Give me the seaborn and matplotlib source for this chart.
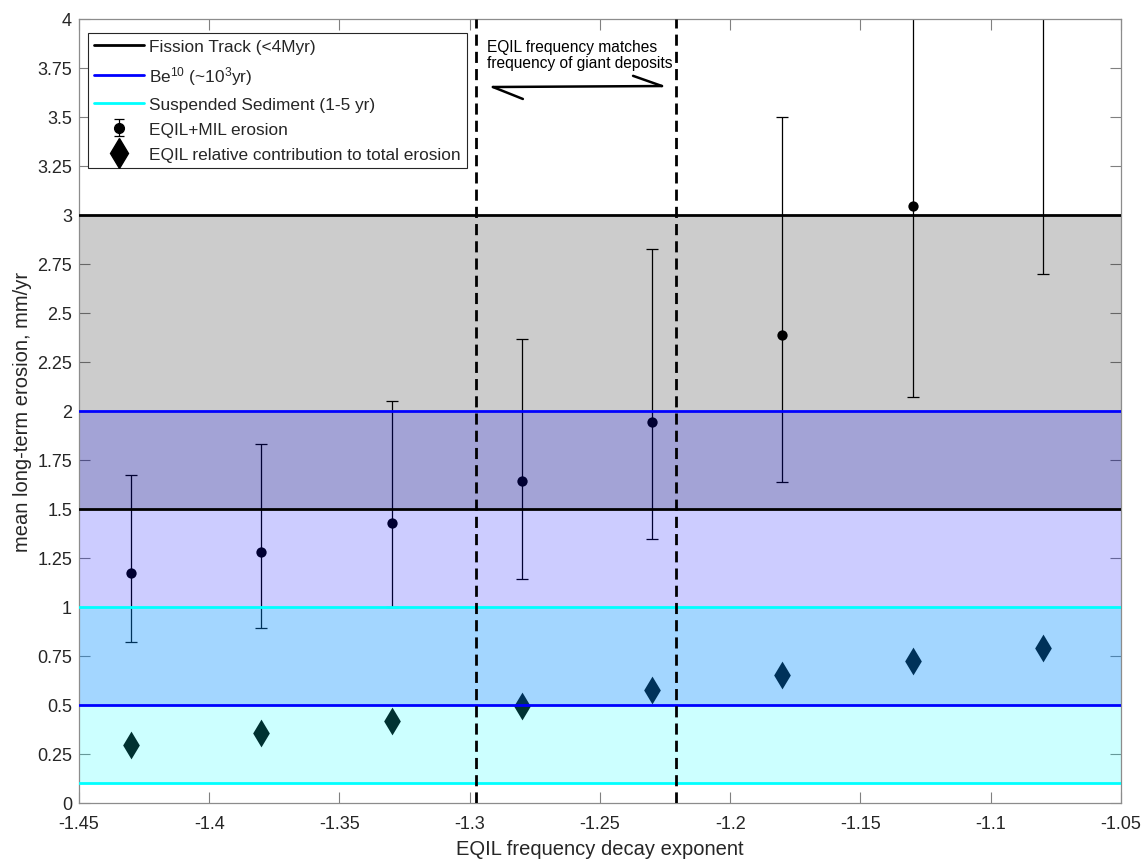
import numpy as np
import pandas as pd
import matplotlib
matplotlib.use("Agg")
import matplotlib.pyplot as plt
from matplotlib.ticker import FuncFormatter, MultipleLocator
from matplotlib.lines import Line2D
import seaborn as sns

# ---------------- data ----------------
exponents = [-1.43, -1.38, -1.33, -1.28, -1.23, -1.18, -1.13, -1.08]
total_erosion = [1.175, 1.28, 1.43, 1.645, 1.945, 2.39, 3.045, 4.15]
err_low = [0.82, 0.895, 1.0, 1.145, 1.345, 1.64, 2.07, 2.70]
err_high = [1.675, 1.83, 2.05, 2.365, 2.825, 3.50, 4.60, 6.00]
eqil_contrib = [0.295, 0.355, 0.42, 0.495, 0.575, 0.655, 0.725, 0.79]

fission_band = (1.5, 3.0)
be10_band = (0.5, 2.0)
sediment_band = (0.1, 1.0)
giant_window = (-1.2975, -1.221)

labels = ["Fission Track (<4Myr)", r"Be$^{10}$ (~10$^{3}$yr)",
          "Suspended Sediment (1-5 yr)", "EQIL+MIL erosion",
          "EQIL relative contribution to total erosion"]

df = pd.DataFrame({"x": exponents, "y": total_erosion,
                   "lo": err_low, "hi": err_high, "c": eqil_contrib})

# ---------------- style ----------------
sns.set_theme(style="white")
plt.rcParams["font.family"] = ["Liberation Sans", "DejaVu Sans"]
plt.rcParams["mathtext.fontset"] = "custom"
plt.rcParams["mathtext.rm"] = "Liberation Sans"
plt.rcParams["mathtext.it"] = "Liberation Sans"
plt.rcParams["mathtext.default"] = "regular"

fig = plt.figure(figsize=(11.45, 8.62), dpi=100)
ax = fig.add_axes([0.069, 0.0673, 0.910, 0.9095])

# data (drawn beneath semi-transparent bands, as in the original)
ax.errorbar(df["x"], df["y"], yerr=[df["y"] - df["lo"], df["hi"] - df["y"]],
            fmt="none", ecolor="black", elinewidth=0.9, capsize=4,
            capthick=0.9, zorder=1)
sns.scatterplot(data=df, x="x", y="y", marker="o", s=55, color="black",
                edgecolor="black", linewidth=0, zorder=1, ax=ax, legend=False)
sns.scatterplot(data=df, x="x", y="c", marker="d", s=200, color="black",
                edgecolor="black", linewidth=0, zorder=1, ax=ax, legend=False)

# bands
band_specs = [(fission_band, "black"), (be10_band, "blue"), (sediment_band, "cyan")]
for (lo, hi), col in band_specs:
    ax.axhspan(lo, hi, facecolor=col, alpha=0.2, edgecolor="none", zorder=2)
for (lo, hi), col in band_specs:
    ax.axhline(lo, color=col, lw=2, zorder=3)
    ax.axhline(hi, color=col, lw=2, zorder=3)

# dashed window
for xv in giant_window:
    ax.axvline(xv, color="black", lw=2, ls=(0, (4, 2.2)), zorder=4)

# annotation text + half-headed double arrow
ax.text(-1.2935, 3.897, "EQIL frequency matches\nfrequency of giant deposits",
        fontsize=11.2, va="top", ha="left", color="black", zorder=5,
        linespacing=1.05)
ax.plot([-1.2911, -1.2262], [3.653, 3.658], color="black", lw=1.8, zorder=5)
ax.plot([-1.2911, -1.2796], [3.653, 3.592], color="black", lw=1.8, zorder=5)
ax.plot([-1.2373, -1.2262], [3.710, 3.658], color="black", lw=1.8, zorder=5)

# axes
ax.set_xlim(-1.45, -1.05)
ax.set_ylim(0, 4)
ax.xaxis.set_major_locator(MultipleLocator(0.05))
ax.yaxis.set_major_locator(MultipleLocator(0.25))
fmt = FuncFormatter(lambda v, p: "%g" % round(v, 4))
ax.xaxis.set_major_formatter(fmt)
ax.yaxis.set_major_formatter(fmt)
ax.tick_params(direction="in", length=8, width=0.8, colors="#808080",
               labelcolor="#262626", labelsize=13, top=True, right=True,
               bottom=True, left=True)
ax.tick_params(axis="x", pad=9)
ax.tick_params(axis="y", pad=5)
for sp in ax.spines.values():
    sp.set_color("#8c8c8c")
    sp.set_linewidth(0.9)
ax.set_xlabel("EQIL frequency decay exponent", fontsize=14.5, color="#262626", labelpad=5)
ax.set_ylabel("mean long-term erosion, mm/yr", fontsize=14.5, color="#262626", labelpad=4)

# legend proxy for the error-bar entry
eb_proxy = ax.errorbar(df["x"][:1], df["y"][:1], yerr=[[0.2], [0.2]], fmt="o",
                       color="black", ms=7, capsize=3.5, elinewidth=0.9,
                       capthick=0.9)
eb_proxy.remove()

handles = [
    Line2D([], [], color="black", lw=2),
    Line2D([], [], color="blue", lw=2),
    Line2D([], [], color="cyan", lw=2),
    eb_proxy,
    Line2D([], [], color="black", marker="d", ms=15, ls="none"),
]
leg = ax.legend(handles, labels, loc="upper left", bbox_to_anchor=(0.0087, 0.9825),
                borderaxespad=0, fontsize=12.4, frameon=True, fancybox=False,
                edgecolor="#262626", framealpha=1, handlelength=2.9,
                labelspacing=0.58, borderpad=0.35, handletextpad=0.3)
leg.get_frame().set_linewidth(0.8)
leg.set_zorder(6)

fig.savefig("out.png", dpi=100)
